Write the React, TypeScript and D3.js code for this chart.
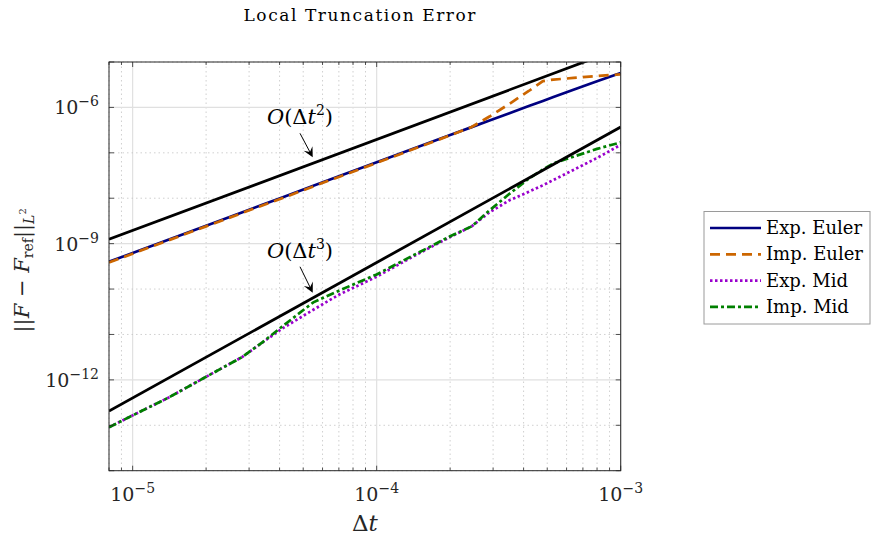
import React from 'react';
import * as d3 from 'd3';

// time steps shared by all four methods
const dts = [8e-6, 1e-5, 1.4e-5, 2e-5, 2.8e-5, 3.4e-5, 4.1e-5, 5.5e-5, 7e-5, 1e-4, 1.4e-4,
  2e-4, 2.45e-4, 2.9e-4, 3.5e-4, 4.2e-4, 4.8e-4, 5.3e-4, 6.4e-4, 8e-4, 1e-3];

// error values
const expEuler = [4.0e-10, 6.2e-10, 1.22e-9, 2.48e-9, 4.86e-9, 7.2e-9, 1.04e-8, 1.88e-8, 3.04e-8, 6.2e-8, 1.21e-7,
  2.46e-7, 3.68e-7, 5.15e-7, 7.45e-7, 1.07e-6, 1.39e-6, 1.69e-6, 2.44e-6, 3.75e-6, 5.75e-6];
const impEuler = [3.85e-10, 6.0e-10, 1.18e-9, 2.4e-9, 4.7e-9, 6.95e-9, 1.0e-8, 1.82e-8, 2.95e-8, 6.0e-8, 1.18e-7,
  2.42e-7, 3.7e-7, 6.3e-7, 1.2e-6, 2.3e-6, 3.8e-6, 4.1e-6, 4.45e-6, 4.9e-6, 5.35e-6];
const expMid = [9.05e-14, 1.65e-13, 4.05e-13, 1.17e-12, 3.15e-12, 6.6e-12, 1.35e-11, 3.5e-11, 7.5e-11, 1.87e-10, 5.1e-10,
  1.4e-9, 2.4e-9, 4.9e-9, 9.0e-9, 1.39e-8, 1.93e-8, 2.52e-8, 4.2e-8, 7.7e-8, 1.5e-7];
const impMid = [9.05e-14, 1.65e-13, 4.05e-13, 1.17e-12, 3.15e-12, 6.7e-12, 1.5e-11, 5.1e-11, 9.2e-11, 2.1e-10, 5.4e-10,
  1.45e-9, 2.4e-9, 5.4e-9, 1.25e-8, 2.7e-8, 4.3e-8, 5.87e-8, 8.2e-8, 1.22e-7, 1.7e-7];

// reference slopes (end points)
const ref2 = { dt: [8e-6, 1e-3], err: [1.25e-9, 2.0e-5] };
const ref3 = { dt: [8e-6, 1e-3], err: [2.05e-13, 3.7e-7] };

const series = [
  { name: 'Exp. Euler', values: expEuler, color: '#000080', dash: null },
  { name: 'Imp. Euler', values: impEuler, color: '#cc6600', dash: '10,6' },
  { name: 'Exp. Mid', values: expMid, color: '#9900cc', dash: '2.5,2.5' },
  { name: 'Imp. Mid', values: impMid, color: '#008000', dash: '8,3,3,3' },
];

// annotation arrows: tail / tip in data coords
const notes = [
  { order: '2', tail: [4.85e-5, 2.69e-7], tip: [5.47e-5, 7.96e-8] },
  { order: '3', tail: [4.85e-5, 3.1e-10], tip: [5.47e-5, 8.3e-11] },
];

const xTickVals = [1e-5, 1e-4, 1e-3];
const xTickExp = ['−5', '−4', '−3'];
const yTickVals = [1e-12, 1e-9, 1e-6];
const yTickExp = ['−12', '−9', '−6'];

const W = 877;
const H = 540;
const left = 109, right = 620.7, top = 62, bottom = 470.7;
const serif = '"DejaVu Serif", serif';
const axisColor = '#262626';

export default function App() {
  const x = d3.scaleLog().domain([8e-6, 1e-3]).range([left, right]);
  const y = d3.scaleLog().domain([1e-14, 1e-5]).range([bottom, top]);

  const xMinor: number[] = [];
  for (let e = -6; e <= -3; e++) {
    for (let m = 1; m <= 9; m++) {
      const v = m * Math.pow(10, e);
      if (v >= 8e-6 * 0.999 && v <= 1e-3 * 1.001) xMinor.push(v);
    }
  }
  const yDecades: number[] = [];
  for (let e = -14; e <= -5; e++) yDecades.push(Math.pow(10, e));

  const line = d3.line<[number, number]>().x(d => x(d[0])).y(d => y(d[1]));

  return (
    <svg width={W} height={H} style={{ position: 'absolute', left: 0, top: 0, background: '#fff' }}
      fontFamily={serif}>
      <defs>
        <clipPath id="plot-clip">
          <rect x={left} y={top} width={right - left} height={bottom - top} />
        </clipPath>
      </defs>

      {/* grid */}
      {xMinor.map((v, i) => {
        const major = xTickVals.some(t => Math.abs(t - v) / t < 1e-6);
        return (
          <line key={'gx' + i} x1={x(v)} x2={x(v)} y1={top} y2={bottom}
            stroke={major ? '#e0e0e0' : '#c4c4c4'} strokeWidth={major ? 1.2 : 0.8}
            strokeDasharray={major ? null : '1.5,3'} />
        );
      })}
      {yDecades.map((v, i) => {
        const major = yTickVals.some(t => Math.abs(t - v) / t < 1e-6);
        return (
          <line key={'gy' + i} x1={left} x2={right} y1={y(v)} y2={y(v)}
            stroke={major ? '#e0e0e0' : '#c4c4c4'} strokeWidth={major ? 1.2 : 0.8}
            strokeDasharray={major ? null : '1.5,3'} />
        );
      })}

      {/* data */}
      <g clipPath="url(#plot-clip)" fill="none">
        {series.map(s => (
          <path key={s.name} d={line(dts.map((d, i) => [d, s.values[i]]) as [number, number][]) || ''}
            stroke={s.color} strokeWidth={2.7} strokeDasharray={s.dash || undefined} />
        ))}
        {[ref2, ref3].map((r, k) => (
          <path key={'ref' + k} d={line(r.dt.map((d, i) => [d, r.err[i]]) as [number, number][]) || ''}
            stroke="#000" strokeWidth={2.8} />
        ))}
      </g>

      {/* axes box + ticks */}
      <rect x={left} y={top} width={right - left} height={bottom - top} fill="none" stroke={axisColor} strokeWidth={1} />
      {xMinor.map((v, i) => {
        const major = xTickVals.some(t => Math.abs(t - v) / t < 1e-6);
        const len = major ? 5 : 3;
        return (
          <g key={'tx' + i} stroke={axisColor} strokeWidth={0.8}>
            <line x1={x(v)} x2={x(v)} y1={bottom} y2={bottom - len} />
            <line x1={x(v)} x2={x(v)} y1={top} y2={top + len} />
          </g>
        );
      })}
      {yDecades.map((v, i) => (
        <g key={'ty' + i} stroke={axisColor} strokeWidth={0.8}>
          <line x1={left} x2={left + 5} y1={y(v)} y2={y(v)} />
          <line x1={right} x2={right - 5} y1={y(v)} y2={y(v)} />
        </g>
      ))}

      {/* tick labels */}
      {xTickVals.map((v, i) => (
        <text key={'xl' + i} x={x(v)} y={501} fontSize={19} fill={axisColor} textAnchor="middle">
          <tspan>10</tspan>
          <tspan fontSize={14} dy={-8}>{xTickExp[i]}</tspan>
        </text>
      ))}
      {yTickVals.map((v, i) => (
        <text key={'yl' + i} x={99} y={y(v) + 7} fontSize={19} fill={axisColor} textAnchor="end">
          <tspan>10</tspan>
          <tspan fontSize={14} dy={-8}>{yTickExp[i]}</tspan>
        </text>
      ))}

      {/* axis labels */}
      <text x={(left + right) / 2} y={531} fontSize={23} textAnchor="middle" fill={axisColor}>
        <tspan>Δ</tspan><tspan fontStyle="italic">t</tspan>
      </text>
      <text transform={`translate(29, ${(top + bottom) / 2 + 4}) rotate(-90)`} fontSize={21} textAnchor="middle" fill={axisColor}>
        <tspan>||</tspan>
        <tspan fontStyle="italic">F</tspan>
        <tspan> − </tspan>
        <tspan fontStyle="italic">F</tspan>
        <tspan fontSize={14} dy={4}>ref</tspan>
        <tspan dy={-4}>||</tspan>
        <tspan fontSize={14} fontStyle="italic" dy={5}>L</tspan>
        <tspan fontSize={10} dy={-8}>2</tspan>
      </text>

      {/* title */}
      <text x={(243 + 476) / 2} y={21} fontSize={17} textAnchor="middle" fill="#000"
        textLength={232} lengthAdjust="spacing">Local Truncation Error</text>

      {/* order annotations */}
      {notes.map((n, i) => {
        const tx = x(n.tail[0]), ty = y(n.tail[1]);
        const hx = x(n.tip[0]), hy = y(n.tip[1]);
        const ang = Math.atan2(hy - ty, hx - tx);
        const L = 10, Wd = 5;
        const bx = hx - L * Math.cos(ang), by = hy - L * Math.sin(ang);
        const bx2 = hx - 0.6 * L * Math.cos(ang), by2 = hy - 0.6 * L * Math.sin(ang);
        const px = -Math.sin(ang), py = Math.cos(ang);
        const head = `${hx},${hy} ${bx + px * Wd},${by + py * Wd} ${bx2},${by2} ${bx - px * Wd},${by - py * Wd}`;
        return (
          <g key={'n' + i}>
            <line x1={tx} y1={ty} x2={bx2} y2={by2} stroke="#000" strokeWidth={1} />
            <polygon points={head} fill="#000" />
            <text x={tx} y={ty - 9} fontSize={21} textAnchor="middle" fill="#000">
              <tspan fontStyle="italic">O</tspan>
              <tspan>(Δ</tspan>
              <tspan fontStyle="italic">t</tspan>
              <tspan fontSize={14} dy={-9}>{n.order}</tspan>
              <tspan dy={9}>)</tspan>
            </text>
          </g>
        );
      })}

      {/* legend */}
      <g>
        <rect x={704} y={211.5} width={166} height={112.5} fill="#fff" stroke="#9a9a9a" strokeWidth={1} />
        {series.map((s, i) => {
          const ly = 228 + i * 26.3;
          return (
            <g key={'lg' + i}>
              <line x1={710} x2={761} y1={ly} y2={ly} stroke={s.color} strokeWidth={2.7}
                strokeDasharray={s.dash || undefined} />
              <text x={766} y={ly + 6} fontSize={18} fill="#000">{s.name}</text>
            </g>
          );
        })}
      </g>
    </svg>
  );
}
